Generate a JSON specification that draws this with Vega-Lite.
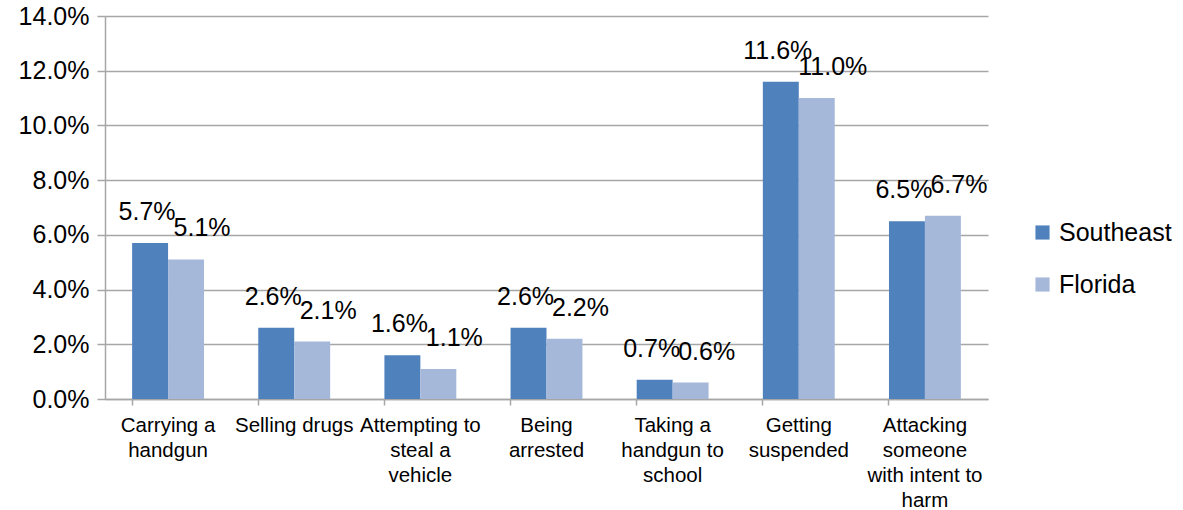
{
  "$schema": "https://vega.github.io/schema/vega-lite/v6.json",
  "width": 883,
  "height": 383,
  "autosize": {"type": "none"},
  "padding": {"left": 105, "top": 16, "right": 195, "bottom": 111},
  "background": "white",
  "config": {
    "font": "Liberation Sans",
    "view": {"stroke": null},
    "axis": {"labelFont": "Liberation Sans", "labelColor": "#000000"},
    "legend": {"labelFont": "Liberation Sans"}
  },
  "data": {
    "values": [
      {"category": "Carrying a\nhandgun", "series": "Southeast", "value": 0.057},
      {"category": "Carrying a\nhandgun", "series": "Florida", "value": 0.051},
      {"category": "Selling drugs", "series": "Southeast", "value": 0.026},
      {"category": "Selling drugs", "series": "Florida", "value": 0.021},
      {"category": "Attempting to\nsteal a\nvehicle", "series": "Southeast", "value": 0.016},
      {"category": "Attempting to\nsteal a\nvehicle", "series": "Florida", "value": 0.011},
      {"category": "Being\narrested", "series": "Southeast", "value": 0.026},
      {"category": "Being\narrested", "series": "Florida", "value": 0.022},
      {"category": "Taking a\nhandgun to\nschool", "series": "Southeast", "value": 0.007},
      {"category": "Taking a\nhandgun to\nschool", "series": "Florida", "value": 0.006},
      {"category": "Getting\nsuspended", "series": "Southeast", "value": 0.116},
      {"category": "Getting\nsuspended", "series": "Florida", "value": 0.110},
      {"category": "Attacking\nsomeone\nwith intent to\nharm", "series": "Southeast", "value": 0.065},
      {"category": "Attacking\nsomeone\nwith intent to\nharm", "series": "Florida", "value": 0.067}
    ]
  },
  "encoding": {
    "x": {
      "field": "category",
      "type": "nominal",
      "sort": null,
      "scale": {"paddingInner": 0.43, "paddingOuter": 0.215},
      "axis": {
        "title": null,
        "labelAngle": 0,
        "labelExpr": "split(datum.label, '\\n')",
        "labelFontSize": 20.5,
        "labelLineHeight": 25,
        "labelPadding": 10,
        "labelBaseline": "top",
        "bandPosition": 0,
        "tickSize": 6,
        "tickColor": "#A6A6A6",
        "tickWidth": 1.5,
        "domainColor": "#A6A6A6",
        "domainWidth": 1.5,
        "grid": false
      }
    },
    "xOffset": {"field": "series", "type": "nominal", "sort": ["Southeast", "Florida"], "scale": {"paddingInner": 0}},
    "y": {
      "field": "value",
      "type": "quantitative",
      "scale": {"domain": [0, 0.14], "nice": false},
      "axis": {
        "title": null,
        "format": ".1%",
        "values": [0, 0.02, 0.04, 0.06, 0.08, 0.1, 0.12, 0.14],
        "labelFontSize": 25,
        "labelPadding": 8,
        "tickSize": 8,
        "tickColor": "#A6A6A6",
        "tickWidth": 1.5,
        "domainColor": "#A6A6A6",
        "domainWidth": 1.5,
        "gridColor": "#A6A6A6",
        "gridWidth": 1.5
      }
    }
  },
  "layer": [
    {
      "mark": {"type": "bar"},
      "encoding": {
        "color": {
          "field": "series",
          "type": "nominal",
          "sort": ["Southeast", "Florida"],
          "scale": {"domain": ["Southeast", "Florida"], "range": ["#4F81BD", "#A5B8DA"]},
          "legend": {
            "title": null,
            "orient": "none",
            "legendX": 925,
            "legendY": 204,
            "symbolType": "square",
            "symbolSize": 200,
            "symbolStrokeWidth": 0,
            "labelFontSize": 25,
            "rowPadding": 26,
            "labelOffset": 4
          }
        }
      }
    },
    {
      "transform": [{"filter": "datum.series === 'Southeast'"}],
      "mark": {"type": "text", "fontSize": 25, "baseline": "middle", "dy": -31, "dx": -3, "color": "#000000"},
      "encoding": {
        "text": {"field": "value", "type": "quantitative", "format": ".1%"}
      }
    },
    {
      "transform": [{"filter": "datum.series === 'Florida'"}],
      "mark": {"type": "text", "fontSize": 25, "baseline": "middle", "dy": -31, "dx": 16, "color": "#000000"},
      "encoding": {
        "text": {"field": "value", "type": "quantitative", "format": ".1%"}
      }
    }
  ]
}
